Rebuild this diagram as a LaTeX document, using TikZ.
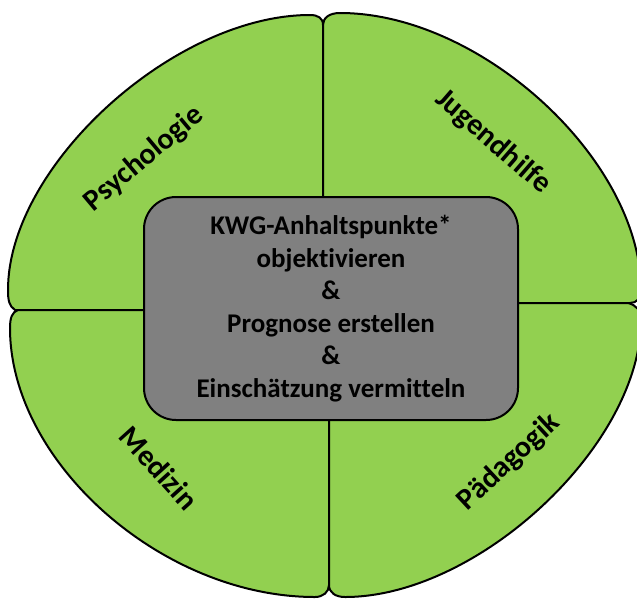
\documentclass[tikz,border=0pt]{standalone}
\usepackage{fontspec}
\setmainfont{Carlito}[Ligatures={NoCommon}]
\usepackage{xcolor}
\usetikzlibrary{positioning}
\definecolor{fieldgreen}{HTML}{92D050}
\definecolor{coregray}{HTML}{808080}
\tikzset{
  field/.style={draw=black, line width=2pt, fill=fieldgreen, line join=round},
  fieldlabel/.style={inner sep=0pt, font=\bfseries\fontsize{30}{36}\selectfont},
  corebox/.style={
    draw=black, line width=2pt, fill=coregray, rounded corners=32pt,
    minimum width=374pt, minimum height=223pt, inner sep=0pt,
    align=center, font=\bfseries\fontsize{27}{32.5}\selectfont
  }
}

\begin{document}
\begin{tikzpicture}[x=1pt,y=-1pt]
  \useasboundingbox (0,0) rectangle (637,598);
  \clip (0,0) rectangle (637,598);

  % Psychologie, oben links
  \draw[field] (323,310) -- (15,310)
    .. controls (9,306) and (8,300) .. (8,290)
    .. controls (8,166) and (174,15) .. (310,15)
    .. controls (318,15) and (323,18) .. (323,25) -- cycle;
  % Jugendhilfe, oben rechts
  \draw[field] (323,303) -- (323,25)
    .. controls (323,18) and (329,13) .. (340,13)
    .. controls (481,13) and (641,160) .. (641,290)
    .. controls (641,298) and (637,303) .. (630,303) -- cycle;
  % Medizin, unten links
  \draw[field] (329,310) -- (18,310)
    .. controls (12,312) and (10,318) .. (10,328)
    .. controls (10,462) and (162,597) .. (315,597)
    .. controls (323,597) and (329,592) .. (329,585) -- cycle;
  % Paedagogik, unten rechts
  \draw[field] (329,303) -- (628,303)
    .. controls (636,305) and (641,310) .. (641,320)
    .. controls (641,445) and (478,597) .. (345,597)
    .. controls (336,597) and (329,593) .. (329,585) -- cycle;

  \node[corebox] (kern) at (331,308.5) {
    KWG-Anhaltspunkte*\\
    objektivieren\\
    \&\\
    Prognose erstellen\\
    \&\\
    Einschätzung vermitteln};

  \node[fieldlabel, rotate=40] (psych) at (144,159) {Psychologie};
  \node[fieldlabel, rotate=-41] (jugend) at (493,142) {Jugendhilfe};
  \node[fieldlabel, rotate=-48] (medizin) at (159,468) {Medizin};
  \node[fieldlabel, rotate=43] (paed) at (509,462) {Pädagogik};
\end{tikzpicture}
\end{document}
